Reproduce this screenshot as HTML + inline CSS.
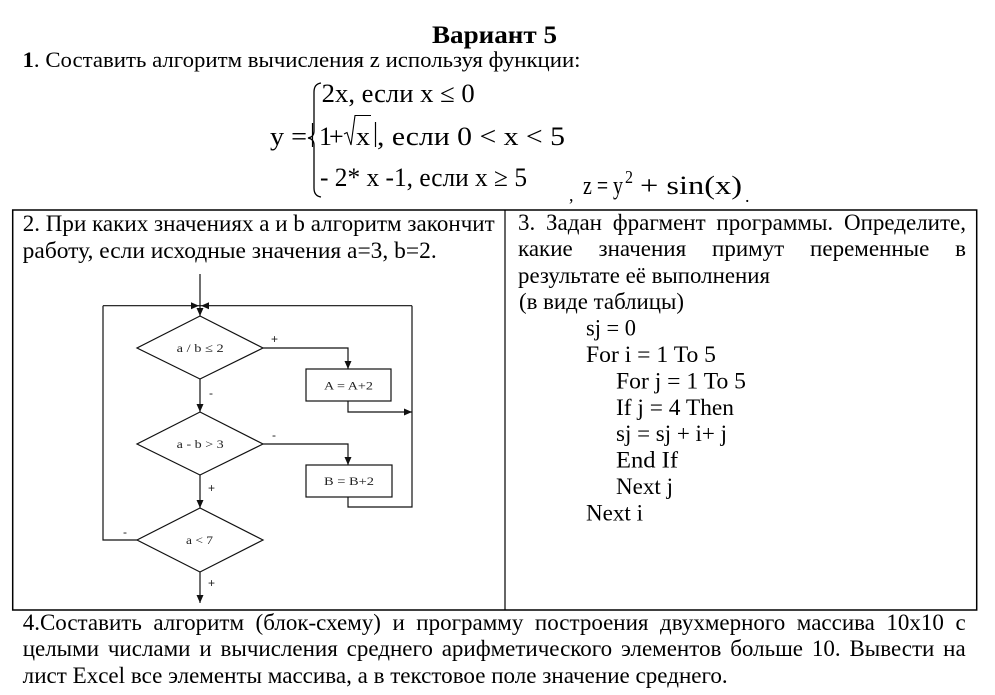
<!DOCTYPE html>
<html><head><meta charset="utf-8">
<style>
html,body{margin:0;padding:0;background:#fff;}
#wrap{position:relative;width:995px;height:695px;overflow:hidden;background:#fff;}
svg{position:absolute;left:0;top:0;}
svg text{font-family:"Liberation Serif","Noto Serif CJK SC",serif;}
svg text.s{font-family:"Liberation Sans","Noto Sans CJK SC",sans-serif;}
.j{position:absolute;font-family:"Liberation Serif","Noto Serif CJK SC",serif;font-size:23px;line-height:23px;height:23px;text-align:justify;text-align-last:justify;white-space:nowrap;color:#000;}
</style></head>
<body><div id="wrap">
<svg width="995" height="695" viewBox="0 0 995 695" xmlns="http://www.w3.org/2000/svg">
  <!-- Header -->
  <text x="432" y="43" font-size="25" font-weight="bold" textLength="125" lengthAdjust="spacingAndGlyphs">Вариант 5</text>
  <text x="22.5" y="67" font-size="22" textLength="558" lengthAdjust="spacingAndGlyphs"><tspan font-weight="bold">1</tspan>. Составить алгоритм вычисления z используя функции:</text>

  <!-- Formula -->
  <text x="270" y="145" font-size="26" textLength="37" lengthAdjust="spacingAndGlyphs">y =</text>
  <path d="M321,83 Q314,84 314,92 L314,131 Q314,137 308,138 Q314,139 314,145 L314,188 Q314,196 321,197" fill="none" stroke="#000" stroke-width="1.3"/>
  <text x="321.7" y="102" font-size="26" textLength="153" lengthAdjust="spacingAndGlyphs">2x,  если x ≤ 0</text>
  <line x1="312.5" y1="123" x2="312.5" y2="147" stroke="#000" stroke-width="1.2"/>
  <text x="319" y="145" font-size="26">1</text>
  <text x="329" y="145" font-size="26">+</text>
  <path d="M344,134 L347,132.5 L351,145 L355,115.5 L371,115.5" fill="none" stroke="#000" stroke-width="1.1"/>
  <text x="356" y="145" font-size="26" textLength="14" lengthAdjust="spacingAndGlyphs">x</text>
  <line x1="375.5" y1="122" x2="375.5" y2="147" stroke="#000" stroke-width="1.2"/>
  <text x="377" y="145" font-size="26" textLength="188" lengthAdjust="spacingAndGlyphs">, если 0 &lt; x &lt; 5</text>
  <text x="320" y="186" font-size="26" textLength="207" lengthAdjust="spacingAndGlyphs">- 2* x -1, если x ≥ 5</text>
  <text x="569" y="201" font-size="18">,</text>
  <text x="583" y="194" font-size="26" textLength="40" lengthAdjust="spacingAndGlyphs">z = y</text>
  <text x="625" y="183" font-size="18" textLength="8" lengthAdjust="spacingAndGlyphs">2</text>
  <text x="640" y="194" font-size="26" textLength="102" lengthAdjust="spacingAndGlyphs">+ sin(x)</text>
  <text x="745" y="202" font-size="18">.</text>

  <!-- Table -->
  <rect x="12.7" y="210" width="964" height="400" fill="none" stroke="#000" stroke-width="1.5"/>
  <line x1="505" y1="210" x2="505" y2="610" stroke="#000" stroke-width="1.2"/>

  <!-- Left column text -->
  <text x="22.7" y="231" font-size="23" textLength="472" lengthAdjust="spacing">2. При каких значениях a и b алгоритм закончит</text>
  <text x="22.7" y="258" font-size="23" textLength="414" lengthAdjust="spacingAndGlyphs">работу, если исходные значения a=3, b=2.</text>

  <!-- Right column text (non-justified) -->
  <text x="518" y="282.8" font-size="23" textLength="252" lengthAdjust="spacingAndGlyphs">результате её выполнения</text>
  <text x="519" y="309.2" font-size="23" textLength="165" lengthAdjust="spacingAndGlyphs">(в виде таблицы)</text>
  <text x="586" y="335.6" font-size="23" textLength="50" lengthAdjust="spacingAndGlyphs">sj = 0</text>
  <text x="586" y="362" font-size="23" textLength="130" lengthAdjust="spacingAndGlyphs">For i = 1 To 5</text>
  <text x="616" y="388.4" font-size="23" textLength="130" lengthAdjust="spacingAndGlyphs">For j = 1 To 5</text>
  <text x="616" y="414.8" font-size="23" textLength="118" lengthAdjust="spacingAndGlyphs">If j = 4 Then</text>
  <text x="616" y="441.2" font-size="23" textLength="111" lengthAdjust="spacingAndGlyphs">sj = sj + i+ j</text>
  <text x="616" y="467.6" font-size="23" textLength="62" lengthAdjust="spacingAndGlyphs">End If</text>
  <text x="616" y="494" font-size="23" textLength="57" lengthAdjust="spacingAndGlyphs">Next j</text>
  <text x="586" y="520.4" font-size="23" textLength="57" lengthAdjust="spacingAndGlyphs">Next i</text>

  <!-- Bottom last line -->
  <text x="22.7" y="683" font-size="23" textLength="705" lengthAdjust="spacingAndGlyphs">лист Excel все элементы массива, а в текстовое поле значение среднего.</text>

  <!-- Flowchart -->
  <g fill="none" stroke="#111" stroke-width="1.2">
    <line x1="200" y1="274" x2="200" y2="316"/>
    <line x1="103" y1="305.7" x2="412" y2="305.7"/>
    <polygon points="200,316 263,348 200,379 137,348" fill="#fff"/>
    <polygon points="200,412 263,444 200,475 137,444" fill="#fff"/>
    <polygon points="200,508 263,540 200,572 137,540" fill="#fff"/>
    <rect x="306" y="369" width="85" height="32" fill="#fff"/>
    <rect x="306" y="465" width="86" height="32" fill="#fff"/>
    <polyline points="263,348 348,348 348,369"/>
    <polyline points="348,401 348,412 412,412"/>
    <line x1="200" y1="379" x2="200" y2="412"/>
    <polyline points="263,444 348,444 348,465"/>
    <polyline points="348,497 348,507 412,507 412,305.7"/>
    <line x1="200" y1="475" x2="200" y2="508"/>
    <polyline points="137,540 103,540 103,305.7"/>
    <line x1="200" y1="572" x2="200" y2="603"/>
  </g>
  <g fill="#111" stroke="none">
    <polygon points="191,302.2 191,309.2 199,305.7"/>
    <polygon points="209,302.2 209,309.2 201,305.7"/>
    <polygon points="196.5,308 203.5,308 200,316"/>
    <polygon points="344.5,361 351.5,361 348,369"/>
    <polygon points="404,408.5 404,415.5 412,412"/>
    <polygon points="196.5,404 203.5,404 200,412"/>
    <polygon points="344.5,457 351.5,457 348,465"/>
    <polygon points="196.5,500 203.5,500 200,508"/>
    <polygon points="196.5,595 203.5,595 200,603"/>
  </g>
  <g font-size="12" fill="#222">
    <text x="176.7" y="352" textLength="47" lengthAdjust="spacingAndGlyphs">a / b ≤ 2</text>
    <text x="176.7" y="448" textLength="47" lengthAdjust="spacingAndGlyphs">a - b &gt; 3</text>
    <text x="186" y="544" textLength="27" lengthAdjust="spacingAndGlyphs">a &lt; 7</text>
    <text x="324" y="389.5" textLength="49" lengthAdjust="spacingAndGlyphs">A = A+2</text>
    <text x="324" y="485" textLength="50" lengthAdjust="spacingAndGlyphs">B = B+2</text>
  </g>
  <g font-size="12" fill="#222">
    <text class="s" x="271" y="343">+</text>
    <text class="s" x="209" y="397">-</text>
    <text class="s" x="272" y="439">-</text>
    <text class="s" x="208" y="492">+</text>
    <text class="s" x="123" y="536">-</text>
    <text class="s" x="208" y="587">+</text>
  </g>
</svg>

<!-- Justified lines -->
<div class="j" style="left:518px;top:210.7px;width:448px;">3. Задан фрагмент программы. Определите,</div>
<div class="j" style="left:518px;top:237.1px;width:448px;">какие значения примут переменные в</div>
<div class="j" style="left:22.7px;top:610.7px;width:943px;">4.Составить алгоритм (блок-схему) и программу построения двухмерного массива 10x10 с</div>
<div class="j" style="left:22.7px;top:637.2px;width:943px;">целыми числами и вычисления среднего арифметического элементов больше 10. Вывести на</div>
</div></body></html>
